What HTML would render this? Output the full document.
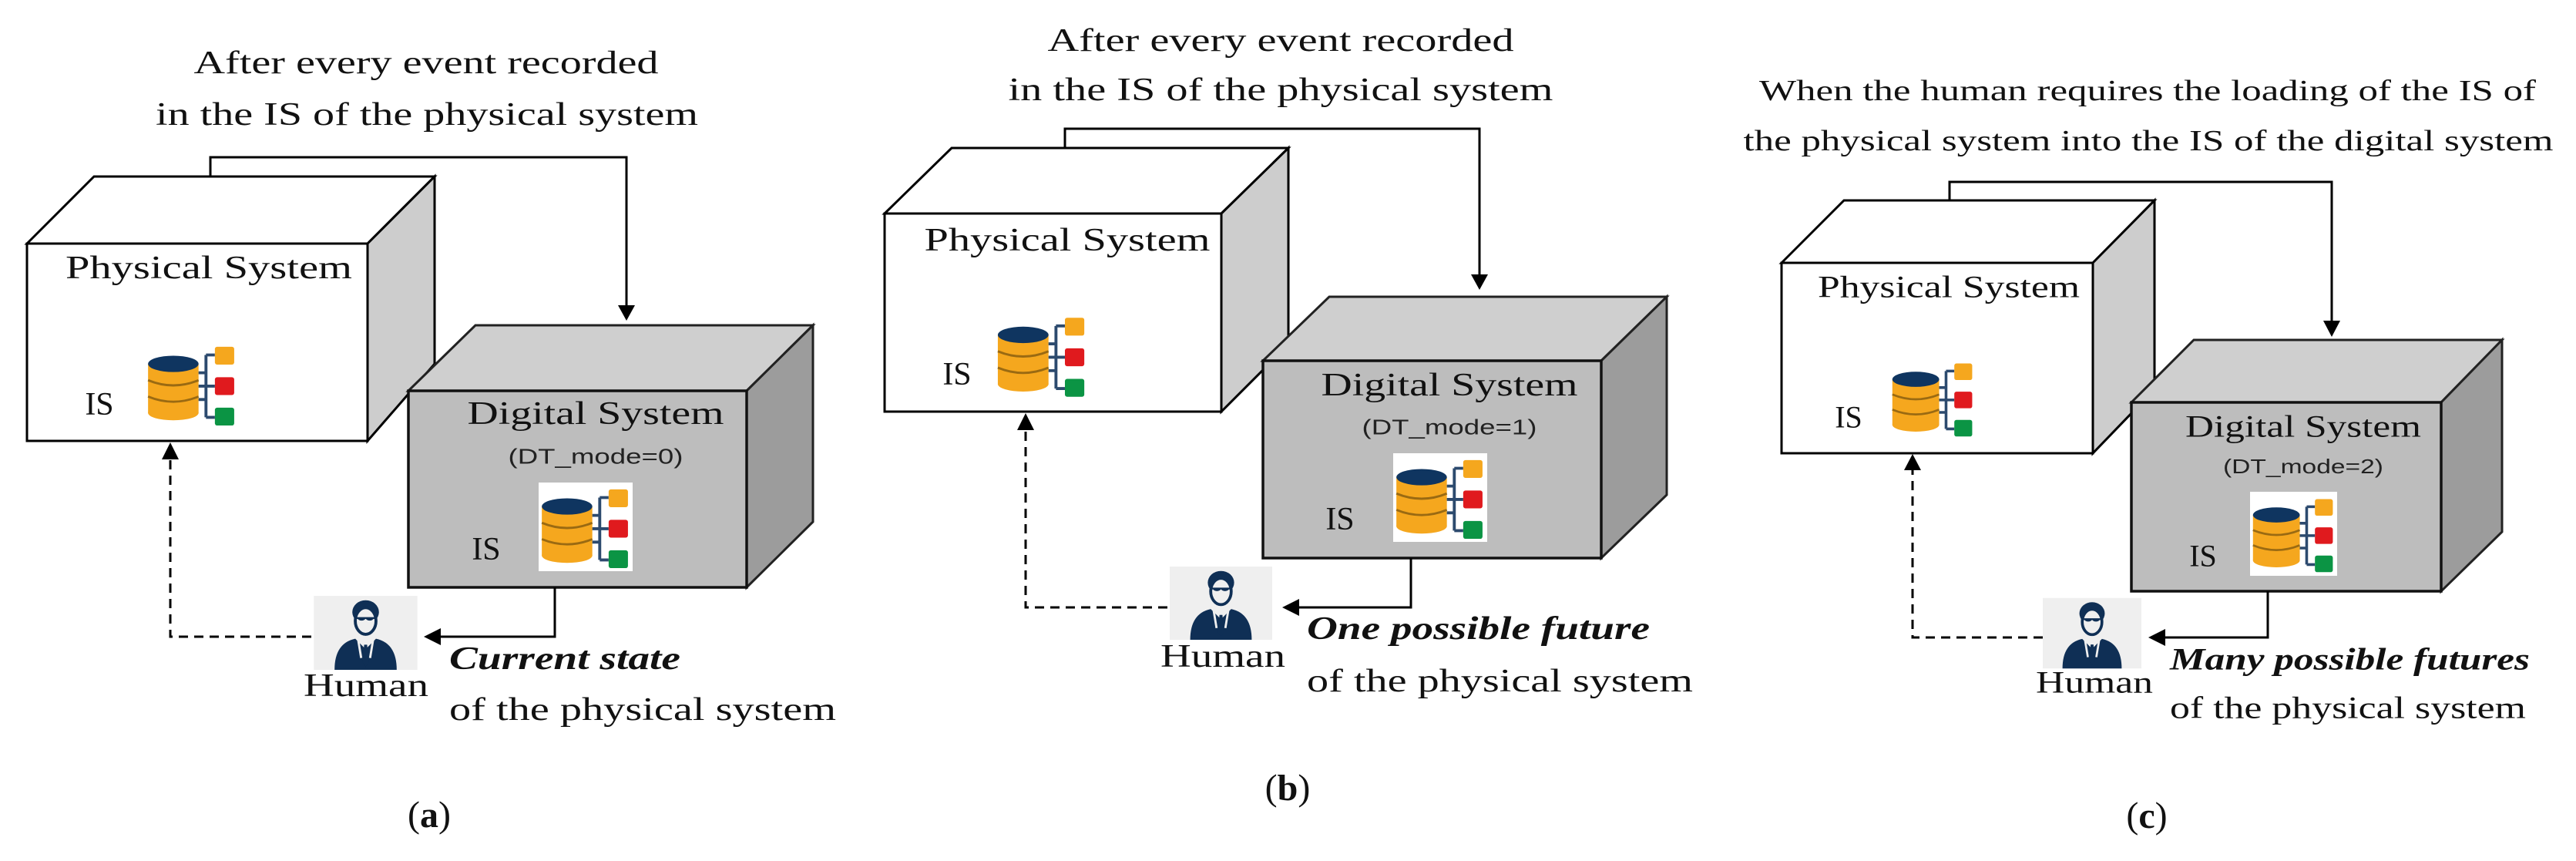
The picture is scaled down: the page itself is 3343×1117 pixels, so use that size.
<!DOCTYPE html>
<html><head><meta charset="utf-8"><style>
html,body{margin:0;padding:0;background:#fff;}
svg{display:block;}
.t{font-family:"Liberation Serif",serif;fill:#111;}
.s{font-family:"Liberation Sans",sans-serif;fill:#222;}
</style></head><body>
<svg width="3343" height="1117" viewBox="0 0 3343 1117" xmlns="http://www.w3.org/2000/svg">
<defs>
<symbol id="db" viewBox="0 0 122 110">
<rect x="2" y="26" width="68" height="66" fill="#f5a71e"/>
<ellipse cx="36" cy="92" rx="34" ry="10" fill="#f5a71e"/>
<path d="M2 48 Q36 62 70 48" stroke="#9a6a12" stroke-width="3" fill="none"/>
<path d="M2 70 Q36 84 70 70" stroke="#9a6a12" stroke-width="3" fill="none"/>
<ellipse cx="36" cy="26" rx="34" ry="11" fill="#0f3560"/>
<path d="M80 14 V98 M80 14 H92 M80 56 H92 M80 98 H92 M70 38 H80 M70 56 H80 M70 74 H80" stroke="#2c4a6e" stroke-width="4" fill="none"/>
<rect x="92" y="3" width="26" height="24" rx="3" fill="#f5a71e"/>
<rect x="92" y="44" width="26" height="24" rx="3" fill="#e01a1e"/>
<rect x="92" y="85" width="26" height="24" rx="3" fill="#0b9444"/>
</symbol>
<symbol id="hu" viewBox="0 0 140 100">
<rect width="140" height="100" fill="#efefef"/>
<path d="M28 100 Q28 64 56 58 L70 72 L84 58 Q112 64 112 100 Z" fill="#0f2f55"/>
<path d="M60 60 L64 84 M80 60 L76 84" stroke="#efefef" stroke-width="3"/>
<path d="M68 66 L72 66 L74 90 L70 96 L66 90 Z" fill="#0f2f55"/>
<ellipse cx="70" cy="22" rx="18" ry="16" fill="#0f2f55"/>
<ellipse cx="70" cy="34" rx="14" ry="18" fill="#efefef" stroke="#0f2f55" stroke-width="4"/>
<path d="M58 30 H82 M60 30 a5 4 0 0 0 9 0 M71 30 a5 4 0 0 0 9 0" stroke="#0f2f55" stroke-width="2.5" fill="none"/>
</symbol>
<marker id="ar" viewBox="0 0 10 10" refX="10" refY="5" markerWidth="8" markerHeight="8" markerUnits="userSpaceOnUse" orient="auto"><path d="M0 0 L10 5 L0 10 Z" fill="#000"/></marker>
</defs>

<!-- ================= (a) ================= -->
<g>
<text class="t" x="553" y="82" font-size="42" text-anchor="middle" dominant-baseline="central" textLength="603" lengthAdjust="spacingAndGlyphs">After every event recorded</text>
<text class="t" x="554" y="149" font-size="42" text-anchor="middle" dominant-baseline="central" textLength="704" lengthAdjust="spacingAndGlyphs">in the IS of the physical system</text>
<polyline points="273,229 273,204 813,204 813,400" fill="none" stroke="#000" stroke-width="3"/>
<path d="M802 396 L824 396 L813 416 Z"/>
<!-- physical cube -->
<polygon points="35,316 122,229 564,229 477,316" fill="#fff" stroke="#000" stroke-width="3"/>
<polygon points="477,316 564,229 564,472 477,572" fill="#cdcdcd" stroke="#000" stroke-width="3"/>
<rect x="35" y="316" width="442" height="256" fill="#fff" stroke="#000" stroke-width="3"/>
<text class="t" x="271" y="348" font-size="42" text-anchor="middle" dominant-baseline="central" textLength="372" lengthAdjust="spacingAndGlyphs">Physical System</text>
<text class="t" x="129" y="525" font-size="42" text-anchor="middle" dominant-baseline="central">IS</text>
<use href="#db" x="188" y="447" width="122" height="106"/>
<!-- digital cube -->
<polygon points="530,507 617,422 1055,422 969,507" fill="#cfcfcf" stroke="#222" stroke-width="3"/>
<polygon points="969,507 1055,422 1055,677 969,762" fill="#9c9c9c" stroke="#222" stroke-width="3"/>
<rect x="530" y="507" width="439" height="255" fill="#bdbdbd" stroke="#111" stroke-width="3.5"/>
<text class="t" x="773" y="537" font-size="42" text-anchor="middle" dominant-baseline="central" textLength="333" lengthAdjust="spacingAndGlyphs">Digital System</text>
<text class="s" x="773" y="592" font-size="28" text-anchor="middle" dominant-baseline="central" textLength="227" lengthAdjust="spacingAndGlyphs">(DT_mode=0)</text>
<text class="t" x="631" y="713" font-size="42" text-anchor="middle" dominant-baseline="central">IS</text>
<rect x="699" y="626" width="122" height="115" fill="#fff"/>
<use href="#db" x="701" y="632" width="118" height="106"/>
<!-- connectors -->
<polyline points="720,762 720,826 568,826" fill="none" stroke="#000" stroke-width="3"/>
<path d="M550 826 L572 815 L572 837 Z"/>
<polyline points="404,826 221,826 221,592" fill="none" stroke="#000" stroke-width="3" stroke-dasharray="12,8"/>
<path d="M210 596 L232 596 L221 574 Z"/>
<use href="#hu" x="406" y="773" width="137" height="96"/>
<text class="t" x="475" y="890" font-size="42" text-anchor="middle" dominant-baseline="central" textLength="162" lengthAdjust="spacingAndGlyphs">Human</text>
<text class="t" x="583" y="855" font-size="42" font-weight="bold" font-style="italic" dominant-baseline="central" textLength="300" lengthAdjust="spacingAndGlyphs">Current state</text>
<text class="t" x="583" y="921" font-size="42" dominant-baseline="central" textLength="502" lengthAdjust="spacingAndGlyphs">of the physical system</text>
<text class="t" x="557" y="1057" font-size="48" text-anchor="middle" dominant-baseline="central">(<tspan font-weight="bold">a</tspan>)</text>
</g>

<!-- ================= (b) ================= -->
<g>
<text class="t" x="1662" y="53" font-size="42" text-anchor="middle" dominant-baseline="central" textLength="605" lengthAdjust="spacingAndGlyphs">After every event recorded</text>
<text class="t" x="1662" y="117" font-size="42" text-anchor="middle" dominant-baseline="central" textLength="707" lengthAdjust="spacingAndGlyphs">in the IS of the physical system</text>
<polyline points="1382,192 1382,167 1920,167 1920,360" fill="none" stroke="#000" stroke-width="3"/>
<path d="M1909 356 L1931 356 L1920 376 Z"/>
<polygon points="1148,277 1235,192 1672,192 1585,277" fill="#fff" stroke="#000" stroke-width="3"/>
<polygon points="1585,277 1672,192 1672,447 1585,534" fill="#cdcdcd" stroke="#000" stroke-width="3"/>
<rect x="1148" y="277" width="437" height="257" fill="#fff" stroke="#000" stroke-width="3"/>
<text class="t" x="1385" y="312" font-size="42" text-anchor="middle" dominant-baseline="central" textLength="371" lengthAdjust="spacingAndGlyphs">Physical System</text>
<text class="t" x="1242" y="486" font-size="42" text-anchor="middle" dominant-baseline="central">IS</text>
<use href="#db" x="1293" y="408" width="118" height="109"/>
<polygon points="1639,468 1725,385 2163,385 2078,468" fill="#cfcfcf" stroke="#222" stroke-width="3"/>
<polygon points="2078,468 2163,385 2163,642 2078,724" fill="#9c9c9c" stroke="#222" stroke-width="3"/>
<rect x="1639" y="468" width="439" height="256" fill="#bdbdbd" stroke="#111" stroke-width="3.5"/>
<text class="t" x="1881" y="500" font-size="42" text-anchor="middle" dominant-baseline="central" textLength="333" lengthAdjust="spacingAndGlyphs">Digital System</text>
<text class="s" x="1881" y="554" font-size="28" text-anchor="middle" dominant-baseline="central" textLength="227" lengthAdjust="spacingAndGlyphs">(DT_mode=1)</text>
<text class="t" x="1739" y="674" font-size="42" text-anchor="middle" dominant-baseline="central">IS</text>
<rect x="1808" y="588" width="122" height="115" fill="#fff"/>
<use href="#db" x="1810" y="594" width="118" height="106"/>
<polyline points="1831,724 1831,788 1682,788" fill="none" stroke="#000" stroke-width="3"/>
<path d="M1664 788 L1686 777 L1686 799 Z"/>
<polyline points="1515,788 1331,788 1331,555" fill="none" stroke="#000" stroke-width="3" stroke-dasharray="12,8"/>
<path d="M1320 558 L1342 558 L1331 536 Z"/>
<use href="#hu" x="1515" y="735" width="139" height="95"/>
<text class="t" x="1587" y="852" font-size="42" text-anchor="middle" dominant-baseline="central" textLength="162" lengthAdjust="spacingAndGlyphs">Human</text>
<text class="t" x="1696" y="816" font-size="42" font-weight="bold" font-style="italic" dominant-baseline="central" textLength="445" lengthAdjust="spacingAndGlyphs">One possible future</text>
<text class="t" x="1696" y="884" font-size="42" dominant-baseline="central" textLength="501" lengthAdjust="spacingAndGlyphs">of the physical system</text>
<text class="t" x="1671" y="1022" font-size="48" text-anchor="middle" dominant-baseline="central">(<tspan font-weight="bold">b</tspan>)</text>
</g>

<!-- ================= (c) ================= -->
<g>
<text class="t" x="2787" y="118" font-size="38" text-anchor="middle" dominant-baseline="central" textLength="1008" lengthAdjust="spacingAndGlyphs">When the human requires the loading of the IS of</text>
<text class="t" x="2788" y="183" font-size="38" text-anchor="middle" dominant-baseline="central" textLength="1051" lengthAdjust="spacingAndGlyphs">the physical system into the IS of the digital system</text>
<polyline points="2530,260 2530,236 3026,236 3026,420" fill="none" stroke="#000" stroke-width="3"/>
<path d="M3015 416 L3037 416 L3026 437 Z"/>
<polygon points="2312,341 2393,260 2796,260 2716,341" fill="#fff" stroke="#000" stroke-width="3"/>
<polygon points="2716,341 2796,260 2796,505 2716,588" fill="#cdcdcd" stroke="#000" stroke-width="3"/>
<rect x="2312" y="341" width="404" height="247" fill="#fff" stroke="#000" stroke-width="3"/>
<text class="t" x="2529" y="372" font-size="40" text-anchor="middle" dominant-baseline="central" textLength="340" lengthAdjust="spacingAndGlyphs">Physical System</text>
<text class="t" x="2399" y="541" font-size="40" text-anchor="middle" dominant-baseline="central">IS</text>
<use href="#db" x="2454" y="467" width="109" height="102"/>
<polygon points="2766,522 2847,441 3247,441 3168,522" fill="#cfcfcf" stroke="#222" stroke-width="3"/>
<polygon points="3168,522 3247,441 3247,690 3168,767" fill="#9c9c9c" stroke="#222" stroke-width="3"/>
<rect x="2766" y="522" width="402" height="245" fill="#bdbdbd" stroke="#111" stroke-width="3.5"/>
<text class="t" x="2989" y="553" font-size="40" text-anchor="middle" dominant-baseline="central" textLength="306" lengthAdjust="spacingAndGlyphs">Digital System</text>
<text class="s" x="2989" y="605" font-size="26" text-anchor="middle" dominant-baseline="central" textLength="208" lengthAdjust="spacingAndGlyphs">(DT_mode=2)</text>
<text class="t" x="2859" y="721" font-size="40" text-anchor="middle" dominant-baseline="central">IS</text>
<rect x="2920" y="638" width="113" height="109" fill="#fff"/>
<use href="#db" x="2922" y="644" width="109" height="100"/>
<polyline points="2943,767 2943,827 2805,827" fill="none" stroke="#000" stroke-width="3"/>
<path d="M2788 827 L2810 816 L2810 838 Z"/>
<polyline points="2651,827 2482,827 2482,607" fill="none" stroke="#000" stroke-width="3" stroke-dasharray="12,8"/>
<path d="M2471 610 L2493 610 L2482 589 Z"/>
<use href="#hu" x="2651" y="774" width="128" height="95"/>
<text class="t" x="2718" y="885" font-size="40" text-anchor="middle" dominant-baseline="central" textLength="152" lengthAdjust="spacingAndGlyphs">Human</text>
<text class="t" x="2816" y="855" font-size="40" font-weight="bold" font-style="italic" dominant-baseline="central" textLength="467" lengthAdjust="spacingAndGlyphs">Many possible futures</text>
<text class="t" x="2816" y="918" font-size="40" dominant-baseline="central" textLength="462" lengthAdjust="spacingAndGlyphs">of the physical system</text>
<text class="t" x="2786" y="1058" font-size="48" text-anchor="middle" dominant-baseline="central">(<tspan font-weight="bold">c</tspan>)</text>
</g>
</svg>
</body></html>
